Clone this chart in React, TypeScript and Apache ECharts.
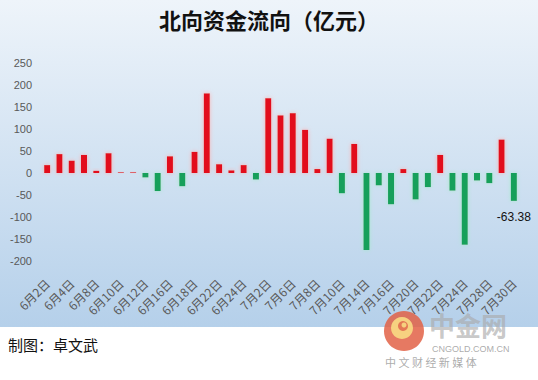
import React, { useEffect, useRef } from "react";
import * as echarts from "echarts";

const TITLE = "北向资金流向（亿元）";
const CREDIT = "制图：卓文武";

const dates = [
  "6月2日", "6月3日", "6月4日", "6月5日", "6月8日", "6月9日", "6月10日", "6月11日", "6月12日",
  "6月15日", "6月16日", "6月17日", "6月18日", "6月19日", "6月22日", "6月23日", "6月24日",
  "6月30日", "7月2日", "7月3日", "7月6日", "7月7日", "7月8日", "7月9日", "7月10日",
  "7月13日", "7月14日", "7月15日", "7月16日", "7月17日", "7月20日", "7月21日", "7月22日",
  "7月23日", "7月24日", "7月27日", "7月28日", "7月29日", "7月30日",
];

const netFlow = [
  18, 43, 28, 41, 5, 45, 1.5, 1.5, -10,
  -41, 38, -30, 48, 181, 20, 6, 18,
  -15, 170, 131, 136, 98, 9, 78, -46,
  66, -175, -28, -71, 9, -60, -32, 41,
  -40, -163, -17, -23, 76, -63.38,
];

const labelledIndex = netFlow.length - 1;

const yMin = -200;
const yMax = 250;
const yStep = 50;

export default function App() {
  const ref = useRef<HTMLDivElement>(null);

  useEffect(() => {
    if (!ref.current) return;
    const chart = echarts.init(ref.current, undefined, { renderer: "svg" });

    const data = netFlow.map((v, i) => {
      const pos = v >= 0;
      const item: any = {
        value: v,
        itemStyle: {
          color: pos ? "#e2101b" : "#12a05a",
          shadowBlur: 4,
          shadowColor: pos ? "rgba(255,170,170,0.9)" : "rgba(160,235,200,0.9)",
        },
      };
      if (i === labelledIndex) {
        item.label = {
          show: true,
          position: "bottom",
          distance: 10,
          formatter: (p: any) => String(p.value),
          color: "#111",
          fontSize: 12,
          fontFamily: "Liberation Sans, Arial, sans-serif",
        };
      }
      return item;
    });

    chart.setOption({
      animation: false,
      backgroundColor: "#ffffff",
      graphic: [
        {
          type: "rect",
          z: -10,
          silent: true,
          shape: { x: 0, y: 0, width: 538, height: 327 },
          style: {
            fill: new echarts.graphic.LinearGradient(0, 0, 0, 1, [
              { offset: 0, color: "#eef4fa" },
              { offset: 1, color: "#b5d0ea" },
            ]),
          },
        },
        {
          type: "text",
          left: "center",
          top: 8,
          style: {
            text: TITLE,
            font: "bold 22px 'Noto Sans CJK SC', sans-serif",
            fill: "#111",
          },
          x: -14,
        },
        {
          type: "text",
          left: 8,
          top: 337,
          style: {
            text: CREDIT,
            font: "15px 'Noto Sans CJK SC', sans-serif",
            fill: "#111",
          },
        },
        {
          type: "group",
          left: 384,
          top: 311,
          z: 100,
          children: [
            {
              type: "circle",
              shape: { cx: 21, cy: 21, r: 20 },
              style: { fill: "rgba(226,98,70,0.85)" },
            },
            {
              type: "circle",
              shape: { cx: 19, cy: 18, r: 11 },
              style: { fill: "rgba(248,214,130,0.95)" },
            },
            {
              type: "circle",
              shape: { cx: 20, cy: 16, r: 5 },
              style: { fill: "rgba(226,110,80,0.9)" },
            },
            {
              type: "circle",
              shape: { cx: 21, cy: 15, r: 2.5 },
              style: { fill: "rgba(248,214,130,0.95)" },
            },
            {
              type: "text",
              x: 46,
              y: 1,
              style: {
                text: "中金网",
                font: "bold 26px 'Noto Sans CJK SC', sans-serif",
                fill: "rgba(170,170,170,0.65)",
                verticalAlign: "top",
                lineHeight: 26,
              },
            },
            {
              type: "text",
              x: 49,
              y: 34,
              style: {
                text: "CNGOLD.COM.CN",
                font: "9px 'Liberation Sans', sans-serif",
                fill: "rgba(150,150,150,0.8)",
                verticalAlign: "top",
              },
            },
            {
              type: "text",
              x: 2,
              y: 46,
              style: {
                text: "中 文 财 经 新 媒 体",
                font: "11px 'Noto Sans CJK SC', sans-serif",
                fill: "rgba(150,150,150,0.8)",
                verticalAlign: "top",
              },
            },
          ],
        },
      ],
      grid: {
        left: 41,
        right: 18,
        top: 63,
        bottom: 119,
        containLabel: false,
      },
      xAxis: {
        type: "category",
        data: dates,
        axisLine: { show: false },
        axisTick: { show: false },
        splitLine: { show: false },
        axisLabel: {
          interval: 1,
          rotate: 45,
          margin: 20,
          color: "#595959",
          fontSize: 12,
          fontFamily: "'Noto Sans CJK SC', sans-serif",
        },
      },
      yAxis: {
        type: "value",
        min: yMin,
        max: yMax,
        interval: yStep,
        axisLine: { show: false },
        axisTick: { show: false },
        splitLine: { show: false },
        axisLabel: {
          margin: 9,
          color: "#595959",
          fontSize: 11,
          fontFamily: "'Liberation Sans', Arial, sans-serif",
        },
      },
      series: [
        {
          type: "bar",
          data,
          barWidth: 6,
        },
      ],
    });

    return () => chart.dispose();
  }, []);

  return (
    <div
      ref={ref}
      style={{ position: "fixed", left: 0, top: 0, width: 538, height: 380 }}
    />
  );
}
